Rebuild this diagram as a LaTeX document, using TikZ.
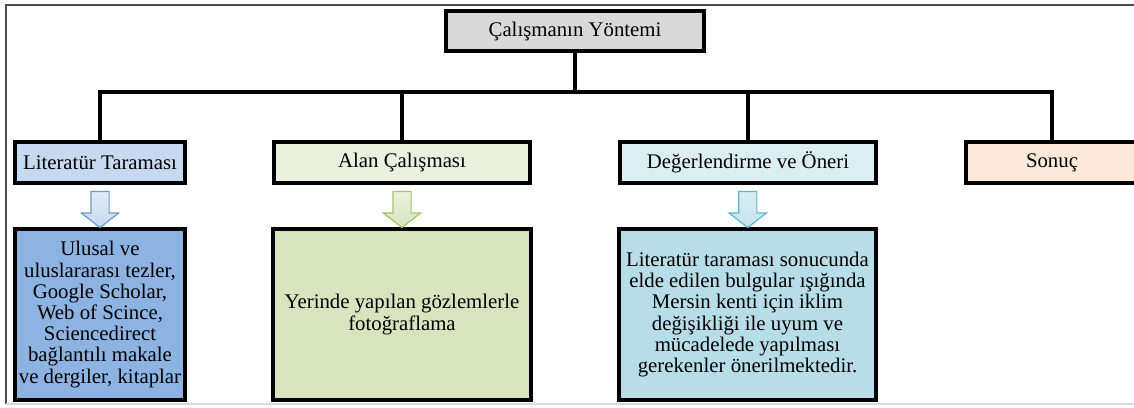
\documentclass[tikz,border=0pt]{standalone}
\usepackage{fontspec}
\setmainfont{Liberation Serif}
\usetikzlibrary{shapes.arrows,calc,shadows}

\definecolor{kutugri}{HTML}{D9D9D9}
\definecolor{litmavi}{HTML}{C6D9F1}
\definecolor{alanyesil}{HTML}{EBF1DE}
\definecolor{degercyan}{HTML}{DBEEF4}
\definecolor{sonucpembe}{HTML}{FDE9D9}
\definecolor{litkoyu}{HTML}{8DB3E2}
\definecolor{alankoyu}{HTML}{D7E4BD}
\definecolor{degerkoyu}{HTML}{B7DDE8}
\definecolor{litcizgi}{HTML}{6C9BD2}
\definecolor{alancizgi}{HTML}{A6C36A}
\definecolor{degercizgi}{HTML}{5BB6D0}

\tikzset{
  kutu/.style={draw=black, line width=2pt, inner sep=0pt, align=center,
    font=\fontsize{10.4}{10.6}\selectfont,
    drop shadow={shadow xshift=0.8pt, shadow yshift=-0.8pt, fill=black!55, opacity=0.6}},
  baglanti/.style={line width=2pt},
  ok/.style={single arrow, shape border rotate=270, inner xsep=4.25pt, inner ysep=0pt,
    minimum height=18pt, single arrow head extend=4.75pt,
    single arrow tip angle=104, line width=0.6pt}
}

\begin{document}
\begin{tikzpicture}[x=0.5pt,y=-0.5pt]
\useasboundingbox (0,0) rectangle (1134,407);
\clip (0,0) rectangle (1134,407);
% cerceve
\draw[black!70, line width=0.7pt] (6,404) -- (6,5) -- (1140,5);
\draw[black!15, line width=0.7pt] (6,404) -- (1140,404);

\node[kutu, fill=kutugri, minimum width=129pt, minimum height=20pt] (yontem) at (575,31) {Çalışmanın Yöntemi};

\node[kutu, fill=litmavi, minimum width=85pt, minimum height=20.5pt] (lit) at (100,162.5) {Literatür Taraması};
\node[kutu, fill=alanyesil, minimum width=128pt, minimum height=20.5pt] (alan) at (402,162.5) {Alan Çalışması};
\node[kutu, fill=degercyan, minimum width=128pt, minimum height=20.5pt] (deger) at (748,162.5) {Değerlendirme ve Öneri};
\node[kutu, fill=sonucpembe, minimum width=86pt, minimum height=20.5pt] (sonuc) at (1052,162.5) {Sonuç};

\node[kutu, fill=litkoyu, minimum width=85pt, minimum height=85.5pt] (litdetay) at (100,314.5)
  {Ulusal ve\\uluslararası tezler,\\Google Scholar,\\Web of Scince,\\Sciencedirect\\bağlantılı makale\\ve dergiler, kitaplar};
\node[kutu, fill=alankoyu, minimum width=129pt, minimum height=85.5pt] (alandetay) at (402,314.5)
  {Yerinde yapılan gözlemlerle\\fotoğraflama};
\node[kutu, fill=degerkoyu, minimum width=128.5pt, minimum height=85.5pt] (degerdetay) at (747.5,314.5)
  {Literatür taraması sonucunda\\elde edilen bulgular ışığında\\Mersin kenti için iklim\\değişikliği ile uyum ve\\mücadelede yapılması\\gerekenler önerilmektedir.};

% baglantilar
\coordinate (bus) at (575,92);
\draw[baglanti] (yontem.south) -- (yontem.south |- bus);
\draw[baglanti] (lit.north) |- (sonuc.north |- bus) -- (sonuc.north);
\draw[baglanti] (alan.north) -- (alan.north |- bus);
\draw[baglanti] (deger.north) -- (deger.north |- bus);

% oklar
\node[ok, draw=litcizgi, top color=litmavi!50, bottom color=litmavi] (litok) at ($(lit.south)!.5!(litdetay.north)$) {};
\node[ok, draw=alancizgi, top color=alanyesil, bottom color=alankoyu] (alanok) at ($(alan.south)!.5!(alandetay.north)$) {};
\node[ok, draw=degercizgi, top color=degercyan, bottom color=degerkoyu!80] (degerok) at ($(deger.south)!.5!(degerdetay.north)$) {};
\end{tikzpicture}
\end{document}
